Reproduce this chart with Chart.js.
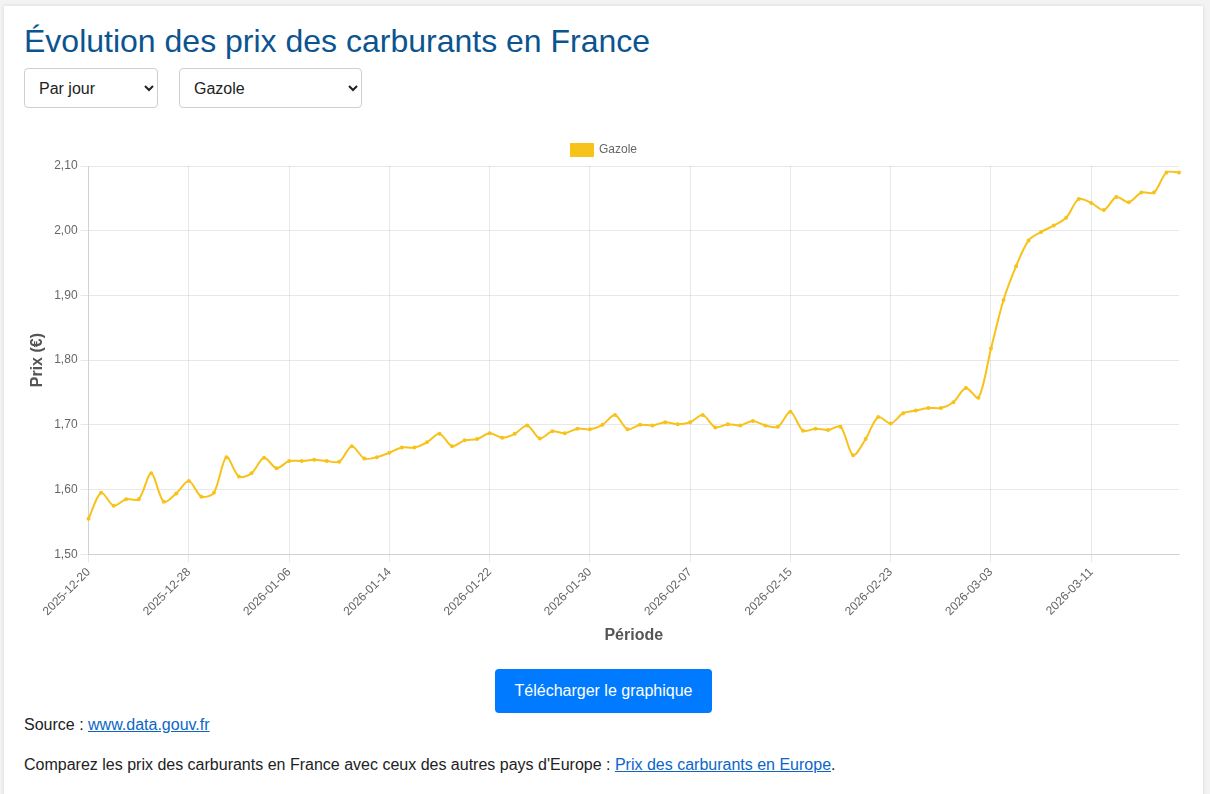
<!DOCTYPE html>
<html lang="fr">
<head>
<meta charset="utf-8">
<script src="https://cdn.jsdelivr.net/npm/chart.js@4.4.1/dist/chart.umd.min.js"></script>
<style>
  html, body { margin: 0; padding: 0; background: #f3f3f3; }
  body { font-family: Arial, "Liberation Sans", Helvetica, sans-serif; color: #222; width: 1210px; height: 794px; overflow: hidden; }
  .container { position: absolute; left: 4px; top: 6px; width: 1159px; height: 800px; background: #fff; padding: 16px 20px 0 20px; box-shadow: 0 0 4px rgba(0,0,0,0.12); }
  h1 { font-size: 32px; font-weight: normal; color: #0b5490; margin: 0 0 8px 0; line-height: 38px; }
  .controls { height: 40px; }
  select { height: 40px; font-size: 16px; font-family: inherit; color: #222; background: #fff; border: 1px solid #cfcfcf; border-radius: 4px; padding: 0 10px; margin-right: 21px; vertical-align: top; }
  #s1 { width: 134px; }
  #s2 { width: 183px; }
  .chartwrap { position: relative; width: 1160px; height: 515px; margin-top: 26px; }
  .btnwrap { text-align: center; margin-top: 20px; height: 44px; }
  button { height: 44px; width: 217px; font-size: 16px; font-family: inherit; color: #fff; background: #007bff; border: none; border-radius: 4px; }
  p { margin: 0 0 16px 0; font-size: 16px; line-height: 24px; }
  a { color: #0b66c8; }
</style>
</head>
<body>
<div class="container">
  <h1>Évolution des prix des carburants en France</h1>
  <div class="controls">
    <select id="s1"><option>Par jour</option></select><select id="s2"><option>Gazole</option></select>
  </div>
  <div class="chartwrap"><canvas id="chart"></canvas></div>
  <div class="btnwrap"><button>Télécharger le graphique</button></div>
  <p>Source : <a href="#">www.data.gouv.fr</a></p>
  <p>Comparez les prix des carburants en France avec ceux des autres pays d'Europe : <a href="#">Prix des carburants en Europe</a>.</p>
</div>
<script>
const seriesName = "Gazole";
const dates = [
  "2025-12-20","2025-12-21","2025-12-22","2025-12-23","2025-12-24","2025-12-25","2025-12-26","2025-12-27","2025-12-28","2025-12-29","2025-12-30","2025-12-31",
  "2026-01-02","2026-01-03","2026-01-04","2026-01-05","2026-01-06","2026-01-07","2026-01-08","2026-01-09","2026-01-10","2026-01-11","2026-01-12","2026-01-13","2026-01-14","2026-01-15","2026-01-16","2026-01-17","2026-01-18","2026-01-19","2026-01-20","2026-01-21","2026-01-22","2026-01-23","2026-01-24","2026-01-25","2026-01-26","2026-01-27","2026-01-28","2026-01-29","2026-01-30","2026-01-31",
  "2026-02-01","2026-02-02","2026-02-03","2026-02-04","2026-02-05","2026-02-06","2026-02-07","2026-02-08","2026-02-09","2026-02-10","2026-02-11","2026-02-12","2026-02-13","2026-02-14","2026-02-15","2026-02-16","2026-02-17","2026-02-18","2026-02-19","2026-02-20","2026-02-21","2026-02-22","2026-02-23","2026-02-24","2026-02-25","2026-02-26","2026-02-27","2026-02-28",
  "2026-03-01","2026-03-02","2026-03-03","2026-03-04","2026-03-05","2026-03-06","2026-03-07","2026-03-08","2026-03-09","2026-03-10","2026-03-11","2026-03-12","2026-03-13","2026-03-14","2026-03-15","2026-03-16","2026-03-17","2026-03-18"
];
const gazole = [
  1.555,1.595,1.575,1.585,1.585,1.625,1.581,1.594,1.613,1.589,1.595,1.650,
  1.620,1.625,1.649,1.633,1.644,1.644,1.646,1.644,1.643,1.667,1.648,1.650,1.657,1.665,1.665,1.673,1.686,1.667,1.676,1.678,1.687,1.680,1.686,1.699,1.679,1.690,1.687,1.694,1.693,1.700,
  1.715,1.693,1.700,1.699,1.704,1.701,1.704,1.715,1.696,1.701,1.699,1.706,1.699,1.697,1.720,1.691,1.694,1.692,1.697,1.653,1.678,1.712,1.702,1.718,1.722,1.726,1.726,1.735,
  1.757,1.742,1.818,1.893,1.945,1.985,1.998,2.008,2.020,2.049,2.043,2.032,2.052,2.044,2.059,2.059,2.090,2.090
];
const yMin = 1.5, yMax = 2.1, yStep = 0.1;
const labelEvery = 8;

Chart.defaults.font.family = "Arial, 'Liberation Sans', Helvetica, sans-serif";
Chart.defaults.color = "#666";

new Chart(document.getElementById("chart"), {
  type: "line",
  data: {
    labels: dates,
    datasets: [{
      label: seriesName,
      data: gazole,
      borderColor: "#f7c21a",
      backgroundColor: "#f7c21a",
      borderWidth: 2,
      pointRadius: 1,
      pointHoverRadius: 3,
      tension: 0.3,
      fill: false
    }]
  },
  options: {
    responsive: true,
    maintainAspectRatio: false,
    animation: false,
    plugins: {
      legend: {
        display: true,
        labels: { boxWidth: 22, boxHeight: 12, font: { size: 12 }, color: "#666" }
      },
      tooltip: { enabled: false }
    },
    scales: {
      x: {
        title: { display: true, text: "Période", font: { size: 16, weight: "bold" }, color: "#555" },
        grid: { color: "rgba(0,0,0,0.09)" },
        ticks: {
          autoSkip: false,
          maxRotation: 45,
          minRotation: 45,
          font: { size: 12 },
          color: "#666",
          callback: function(value, index) { return index % labelEvery === 0 ? dates[index] : null; }
        }
      },
      y: {
        min: yMin,
        max: yMax,
        title: { display: true, text: "Prix (€)", font: { size: 16, weight: "bold" }, color: "#555" },
        grid: { color: "rgba(0,0,0,0.09)" },
        ticks: {
          stepSize: yStep,
          font: { size: 12 },
          color: "#666",
          callback: function(v) { return v.toFixed(2).replace(".", ","); }
        }
      }
    }
  }
});
</script>
</body>
</html>
